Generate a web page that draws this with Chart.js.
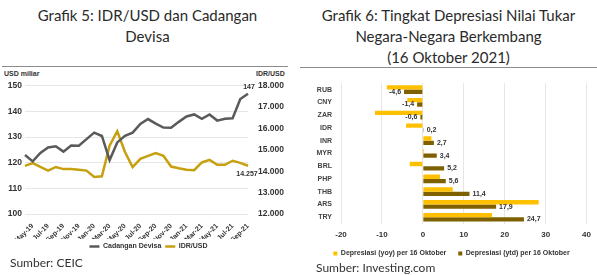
<!DOCTYPE html>
<html>
<head>
<meta charset="utf-8">
<script src="https://cdn.jsdelivr.net/npm/chart.js@4.4.0/dist/chart.umd.min.js"></script>
<style>
  body { margin: 0; width: 597px; height: 275px; background: #fff; position: relative; overflow: hidden; font-family: Lato, sans-serif; }
  .title { position: absolute; text-align: center; font-size: 15px; line-height: 21px; color: #2a2a2a; }
  .rule { position: absolute; height: 0; border-top: 1.5px solid #8c8c8c; }
  .src { position: absolute; font-size: 12px; color: #333; }
  .unit { position: absolute; font: bold 7px "Liberation Sans", Arial, sans-serif; color: #333; }
  canvas { position: absolute; }
</style>
</head>
<body>
<div class="title" style="left:0;top:5px;width:295px">Grafik 5: IDR/USD dan Cadangan<br>Devisa</div>
<div class="title" style="left:300px;top:5px;width:297px">Grafik 6: Tingkat Depresiasi Nilai Tukar<br>Negara-Negara Berkembang<br>(16 Oktober 2021)</div>
<div class="rule" style="left:2px;top:66px;width:286px"></div>
<div class="rule" style="left:300px;top:67px;width:297px"></div>
<div class="unit" style="left:4px;top:70px">USD miliar</div>
<div class="unit" style="left:256px;top:70px">IDR/USD</div>
<canvas id="lineChart" width="297" height="200" style="left:0;top:60px"></canvas>
<canvas id="barChart" width="297" height="197" style="left:300px;top:70px"></canvas>
<div class="src" style="left:10px;top:255px">Sumber: CEIC</div>
<div class="src" style="left:316px;top:260px">Sumber: Investing.com</div>
<script>
/* global Chart */
// Grafik 5
const months = ['Apr-19', 'May-19', 'Jun-19', 'Jul-19', 'Aug-19', 'Sep-19', 'Oct-19', 'Nov-19', 'Dec-19',
  'Jan-20', 'Feb-20', 'Mar-20', 'Apr-20', 'May-20', 'Jun-20', 'Jul-20', 'Aug-20', 'Sep-20', 'Oct-20', 'Nov-20', 'Dec-20',
  'Jan-21', 'Feb-21', 'Mar-21', 'Apr-21', 'May-21', 'Jun-21', 'Jul-21', 'Aug-21', 'Sep-21']
const cadanganDevisa = [123.0, 120.5, 123.8, 125.9, 126.4, 124.3, 126.7, 126.6, 129.2,
  131.7, 130.4, 121.0, 127.9, 130.5, 131.7, 135.1, 137.0, 135.2, 133.7, 133.6, 135.9,
  138.0, 138.8, 137.1, 138.8, 136.4, 137.1, 137.3, 144.8, 146.9]
const idrUsd = [14250, 14380, 14200, 14030, 14200, 14100, 14100, 14070, 14030,
  13730, 13760, 15190, 15870, 14900, 14190, 14578, 14720, 14850, 14720, 14220, 14140,
  14070, 14050, 14410, 14530, 14300, 14300, 14490, 14390, 14257]

// Grafik 6
const currencies = ['RUB', 'CNY', 'ZAR', 'IDR', 'INR', 'MYR', 'BRL', 'PHP', 'THB', 'ARS', 'TRY']
const depYoy = [-8.8, -3.8, -11.7, -4.1, 2.1, 0.3, -3.2, 4.2, 7.3, 28.3, 16.9]
const depYtd = [-4.6, -1.4, -0.6, 0.2, 2.7, 3.4, 5.2, 5.6, 11.4, 17.9, 24.7]

const axisFont = '"Liberation Sans", Arial, sans-serif'
const idNum = v => v.toLocaleString('de-DE')

// label di ujung garis
const lineLabels = {
  id: 'lineLabels',
  afterDatasetsDraw (chart) {
    const ctx = chart.ctx
    const last = months.length - 1
    const p1 = chart.getDatasetMeta(0).data[last]
    const p2 = chart.getDatasetMeta(1).data[last]
    ctx.save()
    ctx.font = 'bold 7px ' + axisFont
    ctx.fillStyle = '#333'
    ctx.textAlign = 'center'
    ctx.textBaseline = 'bottom'
    ctx.fillText(Math.round(cadanganDevisa[last]), p1.x + 1, p1.y - 3)
    ctx.textBaseline = 'top'
    ctx.fillText(idNum(idrUsd[last]), p2.x - 1, p2.y + 5)
    ctx.restore()
  }
}

new Chart(document.getElementById('lineChart'), {
  type: 'line',
  data: {
    labels: months,
    datasets: [
      {
        label: 'Cadangan Devisa',
        data: cadanganDevisa,
        borderColor: '#5a5a5a',
        backgroundColor: '#5a5a5a',
        borderWidth: 2.5,
        pointRadius: 0,
        tension: 0,
        yAxisID: 'y'
      },
      {
        label: 'IDR/USD',
        data: idrUsd,
        borderColor: '#c6a00e',
        backgroundColor: '#c6a00e',
        borderWidth: 2.5,
        pointRadius: 0,
        tension: 0,
        yAxisID: 'y1'
      }
    ]
  },
  options: {
    responsive: false,
    animation: false,
    layout: { padding: { top: 25.7, bottom: 0, left: 0, right: 0 } },
    plugins: {
      legend: {
        position: 'bottom',
        labels: {
          usePointStyle: true,
          pointStyle: 'line',
          pointStyleWidth: 10,
          padding: 4,
          color: '#333',
          font: { family: axisFont, size: 7, weight: 'bold' }
        }
      },
      tooltip: { enabled: false }
    },
    scales: {
      x: {
        offset: false,
        grid: { display: false },
        border: { display: false },
        ticks: {
          autoSkip: false,
          minRotation: 45,
          maxRotation: 45,
          padding: 0,
          color: '#333',
          font: { family: axisFont, size: 7, weight: 'bold' },
          callback: (v, i) => (i % 2 === 1 ? months[i] : '')
        },
        afterFit: s => { s.height = 25 }
      },
      y: {
        position: 'left',
        min: 100,
        max: 150,
        ticks: { stepSize: 10, padding: 3, color: '#333', font: { family: axisFont, size: 8.5, weight: 'bold' } },
        grid: { color: '#e6e6e6', drawTicks: false },
        border: { display: false },
        afterFit: s => { s.width = 25 }
      },
      y1: {
        position: 'right',
        min: 12000,
        max: 18000,
        ticks: { stepSize: 1000, padding: 10, color: '#333', font: { family: axisFont, size: 8.5, weight: 'bold' }, callback: v => idNum(v) },
        grid: { display: false, drawTicks: false },
        border: { display: false },
        afterFit: s => { s.width = 49 }
      }
    }
  },
  plugins: [lineLabels]
})

// label nilai ytd
const barLabels = {
  id: 'barLabels',
  afterDatasetsDraw (chart) {
    const ctx = chart.ctx
    const meta = chart.getDatasetMeta(1)
    ctx.save()
    ctx.font = 'bold 7px ' + axisFont
    ctx.fillStyle = '#333'
    ctx.textBaseline = 'middle'
    meta.data.forEach((bar, i) => {
      const v = depYtd[i]
      ctx.textAlign = v < 0 ? 'right' : 'left'
      ctx.fillText(v.toFixed(1).replace('.', ','), bar.x + (v < 0 ? -3 : 3), bar.y)
    })
    ctx.restore()
  }
}

new Chart(document.getElementById('barChart'), {
  type: 'bar',
  data: {
    labels: currencies,
    datasets: [
      { label: 'Depresiasi (yoy) per 16 Oktober', data: depYoy, backgroundColor: '#ffc000' },
      { label: 'Depresiasi (ytd) per 16 Oktober', data: depYtd, backgroundColor: '#7f6000' }
    ]
  },
  options: {
    indexAxis: 'y',
    responsive: false,
    animation: false,
    layout: { padding: { top: 7.4, right: 10, bottom: 0, left: 16 } },
    datasets: { bar: { categoryPercentage: 0.68, barPercentage: 1 } },
    plugins: {
      legend: {
        position: 'bottom',
        labels: {
          boxWidth: 4,
          boxHeight: 4,
          padding: 12,
          color: '#333',
          font: { family: axisFont, size: 7, weight: 'bold' }
        }
      },
      tooltip: { enabled: false }
    },
    scales: {
      x: {
        min: -20,
        max: 40,
        ticks: { stepSize: 10, padding: 6, color: '#333', font: { family: axisFont, size: 8, weight: 'bold' } },
        grid: { color: '#e6e6e6', drawTicks: false },
        border: { display: false },
        afterFit: s => { s.height = 14.4 }
      },
      y: {
        ticks: { padding: 9, color: '#444', font: { family: axisFont, size: 7, weight: 'bold' } },
        grid: { display: false, drawTicks: false },
        border: { display: false },
        afterFit: s => { s.width = 25 }
      }
    }
  },
  plugins: [barLabels]
})
</script>
</body>
</html>
